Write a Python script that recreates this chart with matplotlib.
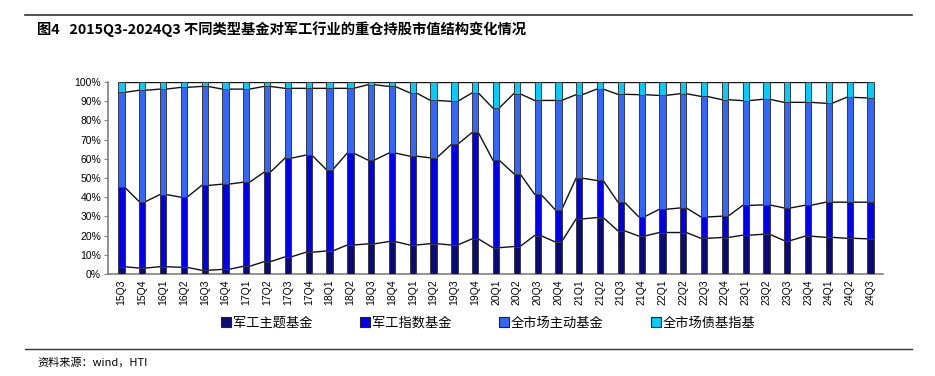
import numpy as np
import matplotlib.pyplot as plt
from matplotlib.lines import Line2D

plt.rcParams['font.family'] = ['Noto Sans CJK SC', 'DejaVu Sans']

quarters = ['15Q3', '15Q4',
            '16Q1', '16Q2', '16Q3', '16Q4',
            '17Q1', '17Q2', '17Q3', '17Q4',
            '18Q1', '18Q2', '18Q3', '18Q4',
            '19Q1', '19Q2', '19Q3', '19Q4',
            '20Q1', '20Q2', '20Q3', '20Q4',
            '21Q1', '21Q2', '21Q3', '21Q4',
            '22Q1', '22Q2', '22Q3', '22Q4',
            '23Q1', '23Q2', '23Q3', '23Q4',
            '24Q1', '24Q2', '24Q3']

# share of each fund type (%)
theme_fund = [3.8, 3.1, 3.8, 3.5, 1.9, 2.4, 4.0, 6.4, 8.9, 11.3, 12.0, 15.1, 15.7, 16.9,
              15.1, 15.8, 15.1, 18.3, 13.7, 14.3, 20.0, 16.7, 28.7, 29.4, 22.6, 19.8,
              21.6, 21.6, 18.6, 19.0, 20.2, 20.7, 17.4, 19.7, 19.1, 18.6, 18.3]
index_fund = [41.4, 34.6, 37.6, 36.5, 44.2, 44.4, 43.8, 46.6, 51.4, 50.6, 42.3, 47.9, 43.6, 46.1,
              46.3, 44.7, 52.4, 55.4, 45.6, 38.0, 21.6, 16.7, 21.2, 19.3, 15.0, 10.1,
              12.1, 12.8, 11.1, 11.1, 15.5, 15.3, 17.0, 16.1, 18.3, 18.8, 19.1]
active_fund = [49.4, 58.0, 54.9, 57.2, 51.6, 49.5, 48.5, 44.7, 36.4, 34.8, 42.4, 33.7, 39.3, 34.7,
               33.0, 29.9, 22.4, 20.6, 27.1, 41.6, 48.8, 57.0, 43.5, 47.6, 56.0, 63.5,
               59.3, 59.5, 62.8, 60.7, 54.6, 55.0, 55.0, 53.6, 51.5, 54.6, 54.3]
bond_index_fund = [5.4, 4.3, 3.7, 2.8, 2.3, 3.7, 3.7, 2.3, 3.3, 3.3, 3.3, 3.3, 1.4, 2.3,
                   5.6, 9.6, 10.1, 5.7, 13.6, 6.1, 9.6, 9.6, 6.6, 3.7, 6.4, 6.6,
                   7.0, 6.1, 7.5, 9.2, 9.7, 9.0, 10.6, 10.6, 11.1, 8.0, 8.3]

labels = ['军工主题基金', '军工指数基金', '全市场主动基金', '全市场债基指基']
colors = ['#0a0a78', '#0000f0', '#3366ff', '#00ccff']
series = [theme_fund, index_fund, active_fund, bond_index_fund]

fig = plt.figure(figsize=(9.35, 3.76), dpi=100)
ax = fig.add_axes([108 / 935, 1 - 274 / 376, 775 / 935, 192 / 376])

x = np.arange(len(quarters))
w = 0.3
bottom = np.zeros(len(quarters))
for vals, c in zip(series, colors):
    vals = np.array(vals)
    ax.bar(x, vals, w, bottom=bottom, color=c, edgecolor='#3a3a3a', linewidth=0.7, zorder=3)
    bottom = bottom + vals
    # series lines between bar tops
    lx, ly = [], []
    for i in range(len(x) - 1):
        lx += [x[i] + w / 2, x[i + 1] - w / 2, np.nan]
        ly += [bottom[i], bottom[i + 1], np.nan]
    ax.plot(lx, ly, color='#111111', linewidth=1.0, zorder=2)

ax.set_xlim(-0.65, len(quarters) - 0.4)
ax.set_ylim(0, 100)
ax.set_yticks(range(0, 101, 10))
ax.set_yticklabels(['%d%%' % v for v in range(0, 101, 10)], family='Liberation Sans', fontsize=7.5)
ax.set_xticks(x)
ax.set_xticklabels(quarters, rotation=90, family='Liberation Sans', fontsize=7.5)
ax.tick_params(axis='x', length=0, pad=4)
ax.tick_params(axis='y', length=3, color='#808080', pad=2)
for s in ['top', 'right']:
    ax.spines[s].set_visible(False)
for s in ['left', 'bottom']:
    ax.spines[s].set_color('#808080')
    ax.spines[s].set_linewidth(1.2)

handles = [Line2D([], [], marker='s', linestyle='none', markersize=7,
                  markerfacecolor=c, markeredgecolor='#222222', markeredgewidth=0.8)
           for c in colors]
fig.legend(handles, labels, loc='center', bbox_to_anchor=(0.522, 1 - 323 / 376), ncol=4,
           frameon=False, fontsize=9.5, handletextpad=0.1, columnspacing=3.6, handlelength=0.8)

fig.add_artist(Line2D([25 / 935, 912 / 935], [1 - 15 / 376, 1 - 15 / 376], color='#333333', linewidth=1.2))
fig.add_artist(Line2D([25 / 935, 912 / 935], [1 - 349 / 376, 1 - 349 / 376], color='#333333', linewidth=1.0))
fig.text(37 / 935, 1 - 29 / 376, '图4   2015Q3-2024Q3 不同类型基金对军工行业的重仓持股市值结构变化情况',
         fontsize=10.3, fontweight='bold', va='center', ha='left')
fig.text(37 / 935, 1 - 362 / 376, '资料来源：wind，HTI', fontsize=8, va='center', ha='left')

fig.savefig('out.png', dpi=100)
